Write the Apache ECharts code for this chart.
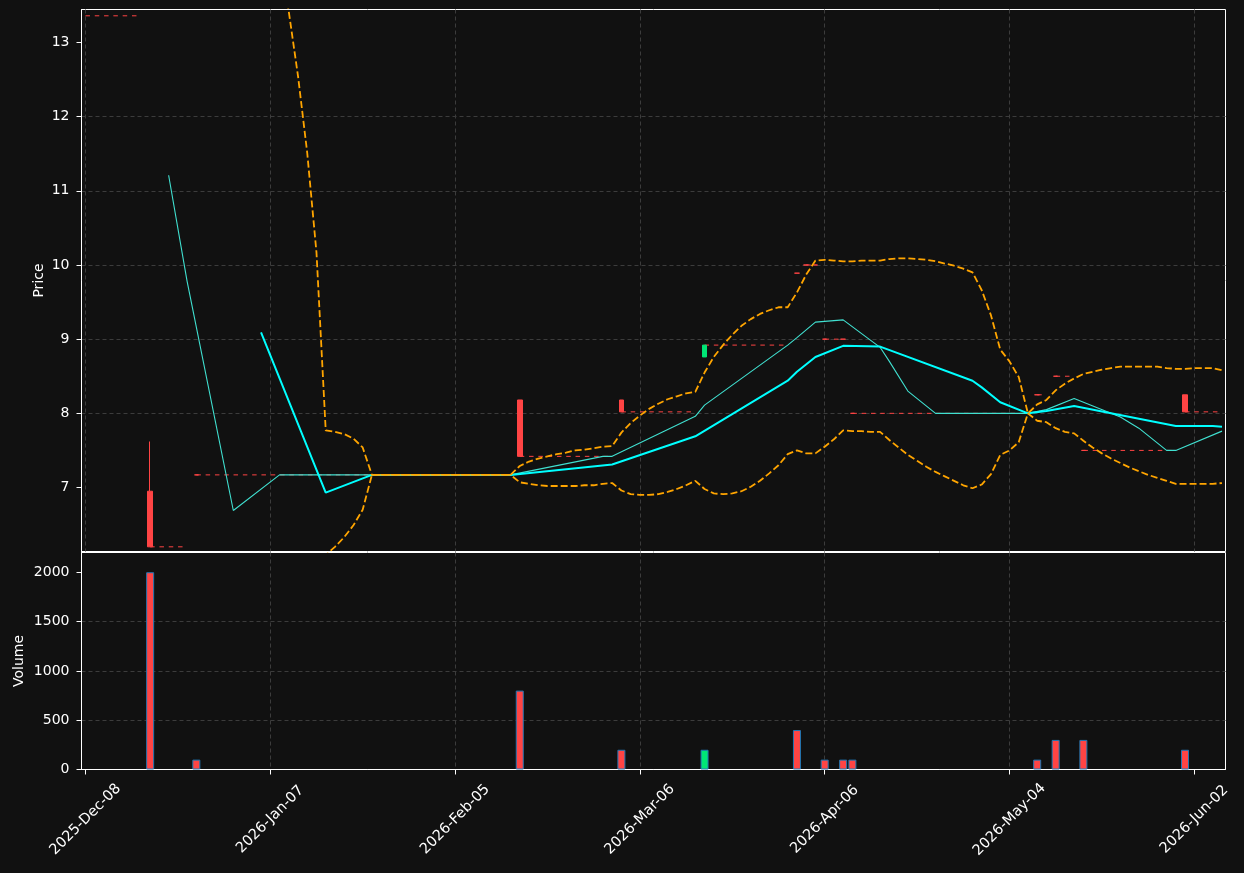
<!DOCTYPE html>
<html>
<head>
<meta charset="utf-8">
<title>Price / Volume</title>
<script src="https://cdn.jsdelivr.net/npm/echarts@6/dist/echarts.min.js"></script>
<style>
  html, body { margin: 0; padding: 0; background: #111111; }
  #chart { width: 1244px; height: 873px; }
</style>
</head>
<body>
<div id="chart"></div>
<script>
// x is the row number of the trading-day table (row 0 = 2025-12-08)
const lastRow = 123;
const tickRows = [0, 20, 40, 60, 80, 100, 120];
const tickLabels = ['2025-Dec-08', '2026-Jan-07', '2026-Feb-05', '2026-Mar-06', '2026-Apr-06', '2026-May-04', '2026-Jun-02'];
const priceTicks = [7, 8, 9, 10, 11, 12, 13];
const volumeTicks = [0, 500, 1000, 1500, 2000];

// trades
const prevClose = 13.36;
const tradeRows = [7, 12, 47, 58, 67, 77, 78, 79, 80, 82, 83, 103, 105, 108, 119];
const open   = [6.95, 7.17, 8.18, 8.18, 8.76, 9.89, 10.0, 10.0, 9.0, 9.0, 8.0, 8.25, 8.5, 7.5, 8.25];
const high   = [7.62, 7.17, 8.18, 8.18, 8.92, 9.89, 10.0, 10.0, 9.0, 9.0, 8.0, 8.25, 8.5, 7.5, 8.25];
const low    = [6.20, 7.17, 7.42, 8.02, 8.76, 9.89, 10.0, 10.0, 9.0, 9.0, 8.0, 8.25, 8.5, 7.5, 8.02];
const close  = [6.20, 7.17, 7.42, 8.02, 8.92, 9.89, 10.0, 10.0, 9.0, 9.0, 8.0, 8.25, 8.5, 7.5, 8.02];
const volume = [2000, 100, 800, 200, 200, 400, 0, 0, 100, 100, 100, 100, 300, 300, 200];

// moving averages (corner points of the polylines)
const ma10Rows = [9, 11, 16, 21, 46, 56, 57, 66, 67, 76, 77, 79, 82, 86, 87, 89, 92, 102, 104, 107, 112, 114, 117, 118, 123];
const ma10Vals = [11.21, 9.78, 6.69, 7.17, 7.17, 7.42, 7.42, 7.96, 8.11, 8.92, 9.02, 9.23, 9.26, 8.89, 8.70, 8.30, 8.00, 8.00, 8.05, 8.20, 7.95, 7.80, 7.50, 7.50, 7.76];
const ma20Rows = [19, 26, 31, 46, 57, 66, 76, 77, 79, 82, 86, 96, 97, 99, 102, 104, 107, 118, 122, 123];
const ma20Vals = [9.09, 6.93, 7.17, 7.17, 7.31, 7.69, 8.44, 8.56, 8.76, 8.91, 8.90, 8.44, 8.35, 8.15, 8.00, 8.03, 8.10, 7.83, 7.83, 7.82];

// bollinger bands, one value per row from bandFirstRow
const bandFirstRow = 19;
const bandUpper = [
  15.40, 14.83, 14.17, 13.42, 12.55, 11.51, 10.17, 7.77, 7.75, 7.72, 7.66, 7.54,
  7.17, 7.17, 7.17, 7.17, 7.17, 7.17, 7.17, 7.17, 7.17, 7.17, 7.17, 7.17, 7.17, 7.17, 7.17, 7.17,
  7.29, 7.35, 7.39, 7.42, 7.45, 7.47, 7.50, 7.51, 7.53, 7.55, 7.56,
  7.74, 7.87, 7.97, 8.06, 8.13, 8.19, 8.23, 8.27, 8.29,
  8.55, 8.76, 8.92, 9.06, 9.18, 9.27, 9.34, 9.39, 9.43, 9.43,
  9.63, 9.87, 10.06, 10.07, 10.06, 10.05, 10.05, 10.06, 10.06, 10.06,
  10.08, 10.09, 10.09, 10.08, 10.07, 10.05, 10.02, 9.99, 9.95, 9.90,
  9.66, 9.32, 8.86, 8.70, 8.49, 8.00,
  8.12, 8.18, 8.31, 8.40, 8.47,
  8.53, 8.56, 8.59, 8.61, 8.63, 8.63, 8.63, 8.63, 8.63, 8.61, 8.60,
  8.60, 8.61, 8.61, 8.61, 8.58
];
const bandLower = [
  2.79, 2.74, 2.78, 2.91, 3.16, 3.58, 4.31, 6.09, 6.20, 6.33, 6.49, 6.70,
  7.17, 7.17, 7.17, 7.17, 7.17, 7.17, 7.17, 7.17, 7.17, 7.17, 7.17, 7.17, 7.17, 7.17, 7.17, 7.17,
  7.07, 7.05, 7.03, 7.02, 7.02, 7.02, 7.02, 7.03, 7.03, 7.05, 7.06,
  6.96, 6.91, 6.90, 6.90, 6.91, 6.94, 6.98, 7.03, 7.09,
  6.98, 6.92, 6.91, 6.92, 6.95, 7.01, 7.09, 7.19, 7.30, 7.45,
  7.50, 7.46, 7.46, 7.55, 7.65, 7.77, 7.76, 7.76, 7.75, 7.75,
  7.64, 7.54, 7.44, 7.36, 7.28, 7.21, 7.15, 7.09, 7.03, 6.99,
  7.04, 7.18, 7.44, 7.50, 7.61, 8.00,
  7.90, 7.88, 7.80, 7.75, 7.73,
  7.63, 7.54, 7.46, 7.39, 7.33, 7.27, 7.22, 7.17, 7.13, 7.09, 7.05,
  7.05, 7.05, 7.05, 7.05, 7.06
];

const UP = '#00e676';
const DOWN = '#ff4444';

const pairs = (rows, vals) => rows.map((r, k) => [r, vals[k]]);
const bandPoints = vals => vals.map((v, k) => [bandFirstRow + k, v]);

// last close carried forward until the next trade, as broken flat pieces
const closeLine = [[0, prevClose], [tradeRows[0] - 1, prevClose], [tradeRows[0] - 1, null]];
tradeRows.forEach((row, k) => {
  const isLast = k === tradeRows.length - 1;
  const end = isLast ? lastRow : tradeRows[k + 1] - 1;
  closeLine.push([row, close[k]], [end, close[k]]);
  if (!isLast && close[k + 1] !== close[k]) closeLine.push([end, null]);
});

const candles = tradeRows.map((r, k) => [r, open[k], close[k], low[k], high[k]]);
const volBars = tradeRows
  .map((r, k) => ({ value: [r, volume[k]], itemStyle: { color: close[k] > open[k] ? UP : DOWN } }))
  .filter(d => d.value[1] > 0);

const axisText = { color: '#ffffff', fontFamily: 'DejaVu Sans', fontSize: 14 };
const gridLine = {
  show: true,
  showMinLine: false,
  showMaxLine: false,
  lineStyle: { color: '#3c3c3c', width: 1, type: [4, 3] }
};
const whiteLine = { show: true, onZero: false, lineStyle: { color: '#ffffff', width: 1 } };
const whiteTick = values => ({ show: true, length: 5, lineStyle: { color: '#ffffff' }, customValues: values });

const chart = echarts.init(document.getElementById('chart'));
chart.setOption({
  backgroundColor: '#111111',
  animation: false,
  grid: [
    { left: 81.5, right: 18.5, top: 9.5, height: 542, show: true, borderColor: '#ffffff', borderWidth: 1 },
    { left: 81.5, right: 18.5, top: 552.5, height: 217, show: true, borderColor: '#ffffff', borderWidth: 1 }
  ],
  xAxis: [
    {
      type: 'value', gridIndex: 0, min: -0.43, max: 123.38,
      axisLine: { show: false, onZero: false }, axisTick: { show: false }, axisLabel: { show: false },
      splitLine: gridLine
    },
    {
      type: 'value', gridIndex: 1, min: -0.43, max: 123.38,
      axisLine: whiteLine,
      axisTick: whiteTick(tickRows),
      axisLabel: {
        ...axisText, fontSize: 14.5, rotate: 45, align: 'center', verticalAlign: 'middle', margin: 50,
        customValues: tickRows,
        formatter: v => tickLabels[tickRows.indexOf(v)] || ''
      },
      splitLine: gridLine
    }
  ],
  yAxis: [
    {
      type: 'value', gridIndex: 0, min: 6.137, max: 13.445,
      name: 'Price', nameLocation: 'middle', nameGap: 35, nameMoveOverlap: false, nameTextStyle: axisText,
      axisLine: whiteLine,
      axisTick: whiteTick(priceTicks),
      axisLabel: { ...axisText, margin: 12, customValues: priceTicks, formatter: v => String(v) },
      splitLine: gridLine
    },
    {
      type: 'value', gridIndex: 1, min: 0, max: 2200,
      name: 'Volume', nameLocation: 'middle', nameGap: 55, nameMoveOverlap: false, nameTextStyle: axisText,
      axisLine: whiteLine,
      axisTick: whiteTick(volumeTicks),
      axisLabel: { ...axisText, margin: 12, customValues: volumeTicks, formatter: v => String(v) },
      splitLine: gridLine
    }
  ],
  series: [
    {
      name: 'close', type: 'line', xAxisIndex: 0, yAxisIndex: 0, z: 2,
      data: closeLine, symbol: 'none', connectNulls: false,
      lineStyle: { color: DOWN, width: 1, type: [4.5, 4.8] }
    },
    {
      name: 'candles', type: 'candlestick', xAxisIndex: 0, yAxisIndex: 0, z: 3,
      data: candles, barWidth: 5,
      itemStyle: {
        color: UP, color0: DOWN, borderColor: UP, borderColor0: DOWN,
        borderColorDoji: DOWN, borderWidth: 1
      }
    },
    {
      name: 'MA10', type: 'line', xAxisIndex: 0, yAxisIndex: 0, z: 4,
      data: pairs(ma10Rows, ma10Vals), symbol: 'none',
      lineStyle: { color: '#40e0d0', width: 1.1 }
    },
    {
      name: 'MA20', type: 'line', xAxisIndex: 0, yAxisIndex: 0, z: 5,
      data: pairs(ma20Rows, ma20Vals), symbol: 'none',
      lineStyle: { color: '#00ffff', width: 2 }
    },
    {
      name: 'BB upper', type: 'line', xAxisIndex: 0, yAxisIndex: 0, z: 6,
      data: bandPoints(bandUpper), symbol: 'none',
      lineStyle: { color: '#ffa500', width: 1.8, type: [7, 3] }
    },
    {
      name: 'BB lower', type: 'line', xAxisIndex: 0, yAxisIndex: 0, z: 6,
      data: bandPoints(bandLower), symbol: 'none',
      lineStyle: { color: '#ffa500', width: 1.8, type: [7, 3] }
    },
    {
      name: 'Volume', type: 'bar', xAxisIndex: 1, yAxisIndex: 1,
      data: volBars, barWidth: 8,
      itemStyle: { borderColor: '#1f77b4', borderWidth: 1 }
    }
  ]
});
</script>
</body>
</html>
